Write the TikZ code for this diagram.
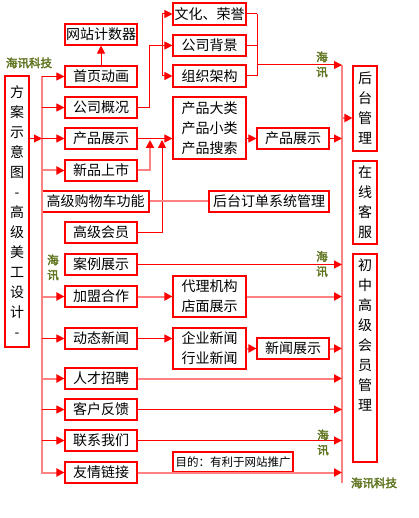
\documentclass[tikz,border=0pt]{standalone}
\usepackage{fontspec}
\setmainfont{Noto Sans CJK SC}
\newfontfamily\wm[FakeBold=3]{Noto Sans CJK SC}
\usetikzlibrary{arrows.meta}
\definecolor{boxred}{RGB}{255,0,0}
\definecolor{pinkl}{RGB}{255,130,130}
\definecolor{wmgreen}{RGB}{96,118,32}
\newcommand\mkbox[6]{\node[box, minimum width={#4-#2}, minimum height={#5-#3}] (#1) at ({(#2+#4)/2},{(#3+#5)/2}) {#6};}
\begin{document}
\begin{tikzpicture}[x=1pt,y=-1pt,
 box/.style={draw=boxred, line width=1.1pt, inner sep=0pt, font=\fontsize{14}{20}\selectfont, align=center},
 rl/.style={draw=boxred, line width=1pt},
 pl/.style={draw=pinkl, line width=2pt},
 tip/.style={-{Triangle[length=8pt,width=8pt,color=boxred]}},
 wmk/.style={text=wmgreen, font=\wm\fontsize{11.5}{15}\selectfont, inner sep=0pt, align=center}
]
\useasboundingbox[fill=white] (0,0) rectangle (418,518);

% left column
\mkbox{cnt}{65}{24}{137}{45}{网站计数器}
\mkbox{sy}{65}{66}{137}{87}{首页动画}
\mkbox{gs}{65}{97}{137}{118}{公司概况}
\mkbox{cp}{65}{128}{137}{149}{产品展示}
\mkbox{xp}{65}{160}{137}{181}{新品上市}
\mkbox{gw}{42}{191}{149}{212}{高级购物车功能}
\mkbox{hy}{65}{222}{137}{243}{高级会员}
\mkbox{al}{65}{254}{137}{275}{案例展示}
\mkbox{jm}{65}{286}{137}{307}{加盟合作}
\mkbox{dt}{65}{328}{137}{349}{动态新闻}
\mkbox{rc}{65}{368}{137}{389}{人才招聘}
\mkbox{kh}{65}{399}{137}{420}{客户反馈}
\mkbox{lx}{65}{430}{137}{451}{联系我们}
\mkbox{yq}{65}{462}{137}{483}{友情链接}
\mkbox{fa}{5}{76}{29}{347}{方\\案\\示\\意\\图\\-\\高\\级\\美\\工\\设\\计\\-}

% second column
\mkbox{wh}{173}{3}{246}{25}{文化、荣誉}
\mkbox{bj}{173}{35}{246}{56}{公司背景}
\mkbox{zz}{173}{65}{246}{87}{组织架构}
\mkbox{pd}{173}{97}{246}{159}{产品大类\\产品小类\\产品搜索}
\mkbox{dl}{173}{276}{246}{317}{代理机构\\店面展示}
\mkbox{qy}{173}{328}{246}{369}{企业新闻\\行业新闻}
\mkbox{md}{173}{452}{293}{472}{\fontsize{11.5}{14}\selectfont 目的：有利于网站推广}

% third column
\mkbox{pz}{257}{128}{329}{149}{产品展示}
\mkbox{hd}{209}{191}{329}{212}{后台订单系统管理}
\mkbox{xw}{257}{338}{329}{359}{新闻展示}

% right column
\mkbox{ht}{353}{66}{377}{151}{后\\台\\管\\理}
\mkbox{zx}{353}{161}{377}{244}{在\\线\\客\\服}
\mkbox{hg}{353}{254}{377}{462}{}
\node[box, draw=none] (hgt) at (365,335) {初\\中\\高\\级\\会\\员\\管\\理};

% buses
\coordinate (lb) at (42,76);
\coordinate (lbe) at (42,474);
\coordinate (rb) at (342,65);
\coordinate (rbe) at (342,483);
\coordinate (g1) at (149,0);
\coordinate (b2) at (162,14);
\coordinate (b2e) at (162,76);
\coordinate (b3) at (257,14);
\coordinate (b3e) at (257,76);
\coordinate (b3m) at (257,65);
\coordinate (h1) at (342,118);
\coordinate (u1) at (150,140);
\coordinate (u2) at (162,140);

\draw[pl] (lb) -- (lbe);
\draw[pl] (rb) -- (rbe);

% left bus arrows
\draw[rl,tip] (fa.east |- cp.west) -- (cp.west -| lb);
\draw[rl,tip] (sy.west -| lb) -- (sy.west);
\draw[rl,tip] (gs.west -| lb) -- (gs.west);
\draw[rl,tip] (cp.west -| lb) -- (cp.west);
\draw[pl,tip] (xp.west -| lb) -- (xp.west);
\draw[pl,tip] (jm.west -| lb) -- (jm.west);
\draw[rl,tip] (dt.west -| lb) -- (dt.west);
\draw[pl,tip] (rc.west -| lb) -- (rc.west);
\draw[rl,tip] (kh.west -| lb) -- (kh.west);
\draw[rl,tip] (lx.west -| lb) -- (lx.west);
\draw[pl,tip] (yq.west -| lb) -- (yq.west);

% top part
\draw[rl,tip] (sy.north) -- (cnt.south);
\draw[rl] (gs.east) -- (gs.east -| g1) |- (bj.west -| b2);
\draw[rl] (b2) -- (b2e);
\draw[rl,tip] (wh.west -| b2) -- (wh.west);
\draw[rl,tip] (bj.west -| b2) -- (bj.west);
\draw[rl,tip] (zz.west -| b2) -- (zz.west);
\draw[rl] (wh.east) -- (wh.east -| b3);
\draw[rl] (bj.east) -- (bj.east -| b3);
\draw[rl] (zz.east) -- (zz.east -| b3);
\draw[rl] (b3) -- (b3e);
\draw[rl,tip] (b3m) -- (b3m -| rb);
\draw[pl,tip] (h1) -- (h1 -| ht.west);

% products
\draw[rl,tip] (cp.east) -- (cp.east -| pd.west);
\draw[pl,tip] (xp.east) -| (u1);
\draw[rl,tip] (hy.east) -| (u2);
\draw[rl,tip] (pd.east |- pz.west) -- (pz.west);
\draw[rl,tip] (pz.east) -- (pz.east -| rb);
\draw[pl] (gw.east) -- (hd.west);

% lower part
\draw[rl,tip] (al.east) -- (al.east -| rb);
\draw[pl,tip] (jm.east) -- (dl.west);
\draw[pl,tip] (dl.east) -- (dl.east -| rb);
\draw[rl,tip] (dt.east) -- (dt.east -| qy.west);
\draw[pl,tip] (qy.east) -- (xw.west);
\draw[pl,tip] (xw.east) -- (xw.east -| rb);
\draw[pl,tip] (rc.east) -- (rc.east -| rb);
\draw[rl,tip] (kh.east) -- (kh.east -| rb);
\draw[rl,tip] (lx.east) -- (lx.east -| rb);
\draw[pl,tip] (yq.east) -- (yq.east -| rb);

% watermarks
\node[wmk] (w1) at (29,63) {海讯科技};
\node[wmk] (w2) at (322,64.5) {海\\讯};
\node[wmk] (w3) at (53,267.5) {海\\讯};
\node[wmk] (w4) at (322,264) {海\\讯};
\node[wmk] (w5) at (323,442.5) {海\\讯};
\node[wmk] (w6) at (374,483) {海讯科技};
\end{tikzpicture}
\end{document}
